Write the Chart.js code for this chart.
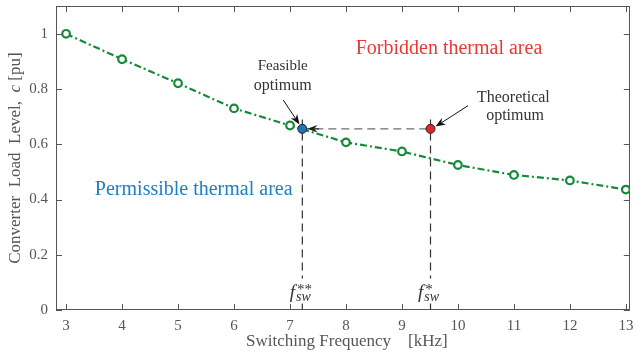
<!DOCTYPE html>
<html>
<head>
<meta charset="utf-8">
<script src="https://cdn.jsdelivr.net/npm/chart.js@4.4.1/dist/chart.umd.min.js"></script>
<style>
  html, body { margin: 0; padding: 0; background: #fff; }
  #wrap { width: 636px; height: 356px; }
</style>
</head>
<body>
<div id="wrap"><canvas id="chart" width="636" height="356"></canvas></div>
<script>
// Data
const freqs = [3, 4, 5, 6, 7, 8, 9, 10, 11, 12, 13];
const loadLevel = [1.0, 0.908, 0.821, 0.730, 0.668, 0.607, 0.574, 0.525, 0.489, 0.469, 0.436];
const optimumFreq = [7.22, 9.51];   // feasible (f**), theoretical (f*)
const optimumLoad = [0.656, 0.656];
const xTicks = [3, 4, 5, 6, 7, 8, 9, 10, 11, 12, 13];
const yTicks = [0, 0.2, 0.4, 0.6, 0.8, 1];

const SERIF = '"Liberation Serif", "DejaVu Serif", serif';
const GREEN = '#17893a';
const AXIS = '#555';

function drawRuns(ctx, runs, cx, cy) {
    // runs: [{text, font}] drawn centred on cx
    let total = 0;
    runs.forEach(r => { ctx.font = r.font; r.w = ctx.measureText(r.text).width; total += r.w; });
    let x = cx - total / 2;
    ctx.textAlign = 'left';
    runs.forEach(r => {
        ctx.font = r.font;
        ctx.fillText(r.text, x, cy);
        x += r.w;
    });
}

function drawArrow(ctx, x1, y1, x2, y2, color) {
    const ang = Math.atan2(y2 - y1, x2 - x1);
    const len = 10, half = 3.8;
    const c = Math.cos(ang), s = Math.sin(ang);
    ctx.strokeStyle = color;
    ctx.fillStyle = color;
    ctx.lineWidth = 1;
    ctx.setLineDash([]);
    ctx.beginPath();
    ctx.moveTo(x1, y1);
    ctx.lineTo(x2 - c * len * 0.7, y2 - s * len * 0.7);
    ctx.stroke();
    ctx.beginPath();
    ctx.moveTo(x2, y2);
    ctx.lineTo(x2 - c * len - s * half, y2 - s * len + c * half);
    ctx.lineTo(x2 - c * len * 0.7, y2 - s * len * 0.7);
    ctx.lineTo(x2 - c * len + s * half, y2 - s * len - c * half);
    ctx.closePath();
    ctx.fill();
}

function fLabel(ctx, cx, baseY, stars) {
    const fFont = 'italic 19px ' + SERIF;
    const starFont = '15px ' + SERIF;
    const subFont = 'italic 14px ' + SERIF;
    ctx.font = fFont;
    const wf = ctx.measureText('f').width;
    ctx.font = starFont;
    const ws = ctx.measureText(stars).width;
    ctx.font = subFont;
    const wsub = ctx.measureText('sw').width;
    const total = wf + 1 + Math.max(ws, wsub);
    const x0 = cx - total / 2 - 2;
    ctx.fillStyle = '#fff';
    ctx.fillRect(x0 - 2, baseY - 19, total + 6, 25);
    ctx.fillStyle = '#333';
    ctx.textAlign = 'left';
    ctx.textBaseline = 'alphabetic';
    ctx.font = fFont;
    ctx.fillText('f', x0, baseY);
    ctx.font = starFont;
    ctx.fillText(stars, x0 + wf + 2, baseY - 4);
    ctx.font = subFont;
    ctx.fillText('sw', x0 + wf + 1, baseY + 3);
}

const decorations = {
    id: 'decorations',
    beforeDatasetsDraw(chart) {
        const {ctx, chartArea: a, scales: {x, y}} = chart;
        ctx.save();
        ctx.strokeStyle = AXIS;
        ctx.lineWidth = 1;
        ctx.strokeRect(Math.round(a.left) + 0.5, Math.round(a.top) + 0.5,
            Math.round(a.right - a.left) - 1, Math.round(a.bottom - a.top) - 1);
        // inward ticks on all four sides
        const tl = 6;
        ctx.beginPath();
        xTicks.forEach(v => {
            const px = Math.round(x.getPixelForValue(v)) + 0.5;
            ctx.moveTo(px, a.bottom); ctx.lineTo(px, a.bottom - tl);
            ctx.moveTo(px, a.top); ctx.lineTo(px, a.top + tl);
        });
        yTicks.forEach(v => {
            const py = Math.round(y.getPixelForValue(v)) + 0.5;
            ctx.moveTo(a.left, py); ctx.lineTo(a.left + tl, py);
            ctx.moveTo(a.right, py); ctx.lineTo(a.right - tl, py);
        });
        ctx.stroke();

        // axis titles
        ctx.fillStyle = '#555';
        ctx.textBaseline = 'middle';
        drawRuns(ctx, [{text: 'Switching Frequency    [kHz]', font: '17px ' + SERIF}],
            (a.left + a.right) / 2 + 4, 342);
        ctx.translate(16, (a.top + a.bottom) / 2);
        ctx.rotate(-Math.PI / 2);
        drawRuns(ctx, [
            {text: 'Converter  Load  Level,  ', font: '17px ' + SERIF},
            {text: 'c', font: 'italic 17px ' + SERIF},
            {text: ' [pu]', font: '17px ' + SERIF}
        ], 0, 0);
        ctx.restore();
    },
    afterDatasetsDraw(chart) {
        const {ctx, scales: {x, y}} = chart;
        const X = v => x.getPixelForValue(v);
        const Y = v => y.getPixelForValue(v);
        ctx.save();
        ctx.textBaseline = 'middle';

        ctx.fillStyle = '#e8383a';
        drawRuns(ctx, [{text: 'Forbidden thermal area', font: '20px ' + SERIF}], X(9.84), Y(0.947));
        ctx.fillStyle = '#1d7fc4';
        drawRuns(ctx, [{text: 'Permissible thermal area', font: '20px ' + SERIF}], X(5.28), Y(0.437));

        ctx.fillStyle = '#333';
        drawRuns(ctx, [{text: 'Feasible', font: '15px ' + SERIF}], X(6.87), Y(0.885));
        drawRuns(ctx, [{text: 'optimum', font: '16px ' + SERIF}], X(6.87), Y(0.813));
        drawRuns(ctx, [{text: 'Theoretical', font: '16px ' + SERIF}], X(10.99), Y(0.769));
        drawRuns(ctx, [{text: 'optimum', font: '16px ' + SERIF}], X(11.02), Y(0.704));

        drawArrow(ctx, X(6.88), Y(0.76), X(7.17), Y(0.672), '#111');
        drawArrow(ctx, X(10.18), Y(0.74), X(9.6), Y(0.664), '#111');
        drawArrow(ctx, X(7.52), Y(optimumLoad[0]), X(7.31), Y(optimumLoad[0]), '#222');

        fLabel(ctx, X(optimumFreq[0]), Y(0.045), '**');
        fLabel(ctx, X(optimumFreq[1]), Y(0.045), '*');
        ctx.restore();
    }
};

const pts = (xs, ys) => xs.map((v, i) => ({x: v, y: ys[i]}));
const tickFont = {family: SERIF, size: 15};

new Chart(document.getElementById('chart'), {
    type: 'line',
    data: {
        datasets: [
            {
                data: pts(optimumFreq, optimumLoad),
                showLine: false,
                pointRadius: 4.5,
                pointBorderWidth: 1,
                pointBorderColor: '#222',
                pointBackgroundColor: ['#1f74ba', '#e3262b'],
                order: 0
            },
            {
                data: pts(freqs, loadLevel),
                borderColor: GREEN,
                borderWidth: 2.2,
                borderDash: [7, 3, 2, 3],
                tension: 0,
                pointRadius: 3.8,
                pointBorderWidth: 2.2,
                pointBorderColor: GREEN,
                pointBackgroundColor: '#fff',
                order: 1
            },
            {
                data: pts(optimumFreq, optimumLoad),
                borderColor: '#6e6e6e',
                borderWidth: 1.3,
                borderDash: [8, 5],
                pointRadius: 0,
                order: 2
            },
            {
                data: pts([optimumFreq[0], optimumFreq[0]], [0.69, 0]),
                borderColor: '#333',
                borderWidth: 1.2,
                borderDash: [8, 5],
                pointRadius: 0,
                order: 3
            },
            {
                data: pts([optimumFreq[1], optimumFreq[1]], [0.69, 0]),
                borderColor: '#333',
                borderWidth: 1.2,
                borderDash: [8, 5],
                pointRadius: 0,
                order: 3
            }
        ]
    },
    options: {
        responsive: false,
        animation: false,
        layout: {padding: {top: 6, right: 5, left: 0, bottom: 0}},
        plugins: {legend: {display: false}, tooltip: {enabled: false}},
        scales: {
            x: {
                type: 'linear',
                min: 2.82,
                max: 13.07,
                afterBuildTicks: s => { s.ticks = xTicks.map(v => ({value: v})); },
                afterFit: s => { s.height = 46; s.paddingLeft = 0; s.paddingRight = 0; },
                grid: {display: false, drawTicks: false},
                border: {display: false},
                ticks: {padding: 7, color: '#555', font: tickFont, callback: v => String(v)}
            },
            y: {
                type: 'linear',
                min: 0,
                max: 1.1,
                afterBuildTicks: s => { s.ticks = yTicks.map(v => ({value: v})); },
                afterFit: s => { s.width = 56; s.paddingTop = 0; s.paddingBottom = 0; },
                grid: {display: false, drawTicks: false},
                border: {display: false},
                ticks: {padding: 8, color: '#555', font: tickFont, callback: v => String(v)}
            }
        }
    },
    plugins: [decorations]
});
</script>
</body>
</html>
